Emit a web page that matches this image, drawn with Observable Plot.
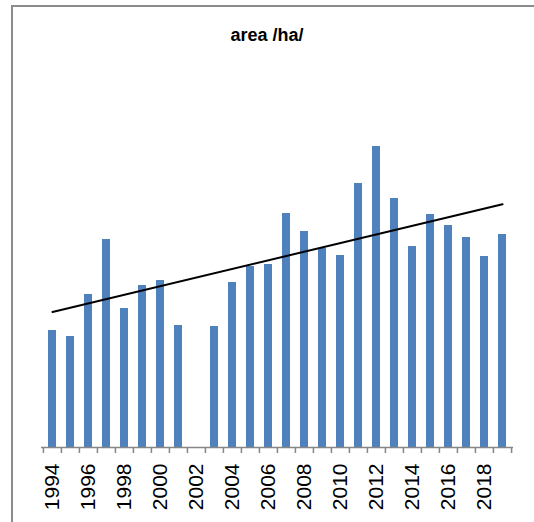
<!DOCTYPE html>
<html>
<head>
<meta charset="utf-8">
<script src="https://cdn.jsdelivr.net/npm/d3@7"></script>
<script src="https://cdn.jsdelivr.net/npm/@observablehq/plot@0.6"></script>
<style>
  html, body { margin: 0; padding: 0; background: #fff; overflow: hidden; }
  #wrap { position: relative; width: 534px; height: 522px; overflow: hidden; }
  #frame { position: absolute; left: 11px; top: 5px; width: 700px; height: 700px;
           border-left: 2px solid #8c8c8c; border-top: 2px solid #8c8c8c; box-sizing: border-box; }
  #title { position: absolute; left: 0; width: 534px; top: 25px; text-align: center;
           font-family: "Liberation Sans", Arial, sans-serif; font-weight: bold; font-size: 18px; color: #000; }
  #chart { position: absolute; left: 0; top: 0; }
</style>
</head>
<body>
<div id="wrap">
  <div id="frame"></div>
  <div id="title">area /ha/</div>
  <div id="chart"></div>
</div>
<script>
const years = ["1994","1995","1996","1997","1998","1999","2000","2001","2002","2003","2004","2005","2006",
               "2007","2008","2009","2010","2011","2012","2013","2014","2015","2016","2017","2018","2019"];
const area = [117, 111, 153, 208, 139, 162, 167, 122, null, 121, 165, 181, 183,
              234, 216, 199, 192, 264, 301, 249, 201, 233, 222, 210, 191, 213];
const tickLabels = ["1994","1996","1998","2000","2002","2004","2006","2008","2010","2012","2014","2016","2018"];

const data = years.map((y, i) => ({year: y, value: area[i], idx: i + 1}));

// least-squares linear trend (blank years excluded), as in the source spreadsheet
const pts = data.filter(d => d.value != null);
const mx = d3.mean(pts, d => d.idx), my = d3.mean(pts, d => d.value);
const slope = d3.sum(pts, d => (d.idx - mx) * (d.value - my)) / d3.sum(pts, d => (d.idx - mx) ** 2);
const intercept = my - slope * mx;
const trend = [data[0], data[data.length - 1]].map(d => ({year: d.year, value: intercept + slope * d.idx}));

const W = 534, H = 522, mL = 41, mR = 21;
const step = (W - mL - mR) / years.length;

const chart = Plot.plot({
  width: W,
  height: H,
  marginLeft: mL,
  marginRight: mR,
  marginTop: 47,
  marginBottom: 75,
  x: {type: "band", domain: years, paddingInner: 0.57, paddingOuter: 0.285, axis: null},
  y: {domain: [0, 400], axis: null},
  style: {fontFamily: "Liberation Sans, Arial, sans-serif", background: "transparent"},
  marks: [
    Plot.barY(data.filter(d => d.value != null), {x: "year", y: "value", fill: "#4f81bd"}),
    Plot.ruleY([0], {stroke: "#868686", strokeWidth: 1.5}),
    Plot.ruleX(years, {x: d => d, y1: 0, y2: -6, dx: -step / 2, stroke: "#868686", strokeWidth: 1.5}),
    Plot.ruleX([years[years.length - 1]], {x: d => d, y1: 0, y2: -6, dx: step / 2, stroke: "#868686", strokeWidth: 1.5}),
    Plot.line(trend, {x: "year", y: "value", stroke: "#000", strokeWidth: 2}),
    Plot.text(tickLabels, {x: d => d, y: 0, rotate: -90, textAnchor: "end", dy: 16, fontSize: 21, fill: "#000"})
  ]
});
document.getElementById("chart").appendChild(chart);
</script>
</body>
</html>
